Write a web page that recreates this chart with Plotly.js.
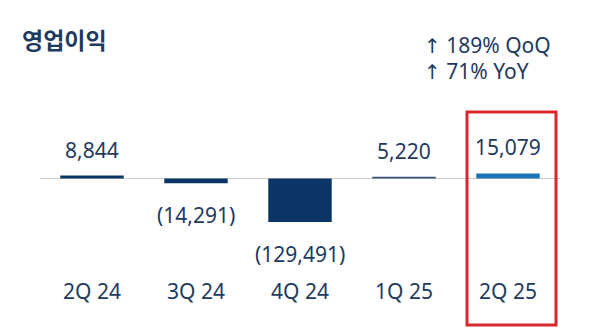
<!DOCTYPE html>
<html>
<head>
<meta charset="utf-8">
<script src="https://cdn.plot.ly/plotly-3.0.1.min.js"></script>
<style>html,body{margin:0;padding:0;background:#fff;}#chart{width:600px;height:335px;}</style>
</head>
<body>
<div id="chart"></div>
<script>
const categories = ["2Q 24", "3Q 24", "4Q 24", "1Q 25", "2Q 25"];
const values = [8844, -14291, -129491, 5220, 15079];
const valueLabels = ["8,844", "(14,291)", "(129,491)", "5,220", "15,079"];
const barColors = ["#0c3567", "#0c3567", "#0c3567", "#34527a", "#1d72b8"];
const growthArrow = "↑";
const growthLines = ["189% QoQ", "71% YoY"];
const titleText = "영업이익";

const textColor = "#1f3a5f";
const numFont = "Noto Sans, Open Sans, sans-serif";

const annotations = values.map((v, i) => ({
  x: categories[i], y: v, xref: "x", yref: "y",
  text: valueLabels[i], showarrow: false,
  xanchor: "center", yanchor: v >= 0 ? "bottom" : "top",
  yshift: v >= 0 ? 10 : -16,
  font: {family: numFont, size: 21, color: textColor}
}));
growthLines.forEach((t, i) => {
  annotations.push({
    xref: "paper", yref: "paper", x: 0.7346, y: i === 0 ? 1.314 : 1.166,
    xanchor: "left", yanchor: "middle", showarrow: false,
    text: '<span style="font-family:DejaVu Sans;font-size:20px">' + growthArrow + '</span> ' + t,
    font: {family: numFont, size: 21, color: textColor}
  });
});

const k = 43.5 / 129491;
const plotTop = 100, plotBottom = 275, zeroPx = 178.5;

const data = [{
  type: "bar", x: categories, y: values,
  marker: {color: barColors, line: {width: 0}},
  hoverinfo: "none"
}];

const layout = {
  width: 600, height: 335,
  margin: {l: 40, r: 40, t: plotTop, b: 335 - plotBottom, pad: 0},
  paper_bgcolor: "#ffffff", plot_bgcolor: "#ffffff",
  showlegend: false,
  bargap: 0.39,
  title: {
    text: titleText, x: 22 / 600, xanchor: "left", xref: "container",
    y: 1 - 41 / 335, yanchor: "middle", yref: "container",
    font: {family: "Noto Sans CJK KR, sans-serif", size: 23, color: textColor, weight: 700}
  },
  xaxis: {
    type: "category", range: [-0.5, 4.5], fixedrange: true,
    showgrid: false, zeroline: false, showline: false, ticks: "",
    tickfont: {family: numFont, size: 21, color: textColor},
    ticklabelstandoff: 2
  },
  yaxis: {
    range: [-(plotBottom - zeroPx) / k, (zeroPx - plotTop) / k],
    showgrid: false, showticklabels: false, ticks: "",
    zeroline: true, zerolinecolor: "#cccccc", zerolinewidth: 1, showline: false
  },
  shapes: [{
    type: "rect", xref: "paper", yref: "paper",
    x0: (467 - 40) / 520, x1: (556 - 40) / 520,
    y0: (plotBottom - 325) / (plotBottom - plotTop), y1: (plotBottom - 112) / (plotBottom - plotTop),
    line: {color: "#d9262e", width: 3}, fillcolor: "rgba(0,0,0,0)"
  }],
  annotations: annotations
};

Plotly.newPlot("chart", data, layout, {displayModeBar: false, staticPlot: true});
</script>
</body>
</html>
